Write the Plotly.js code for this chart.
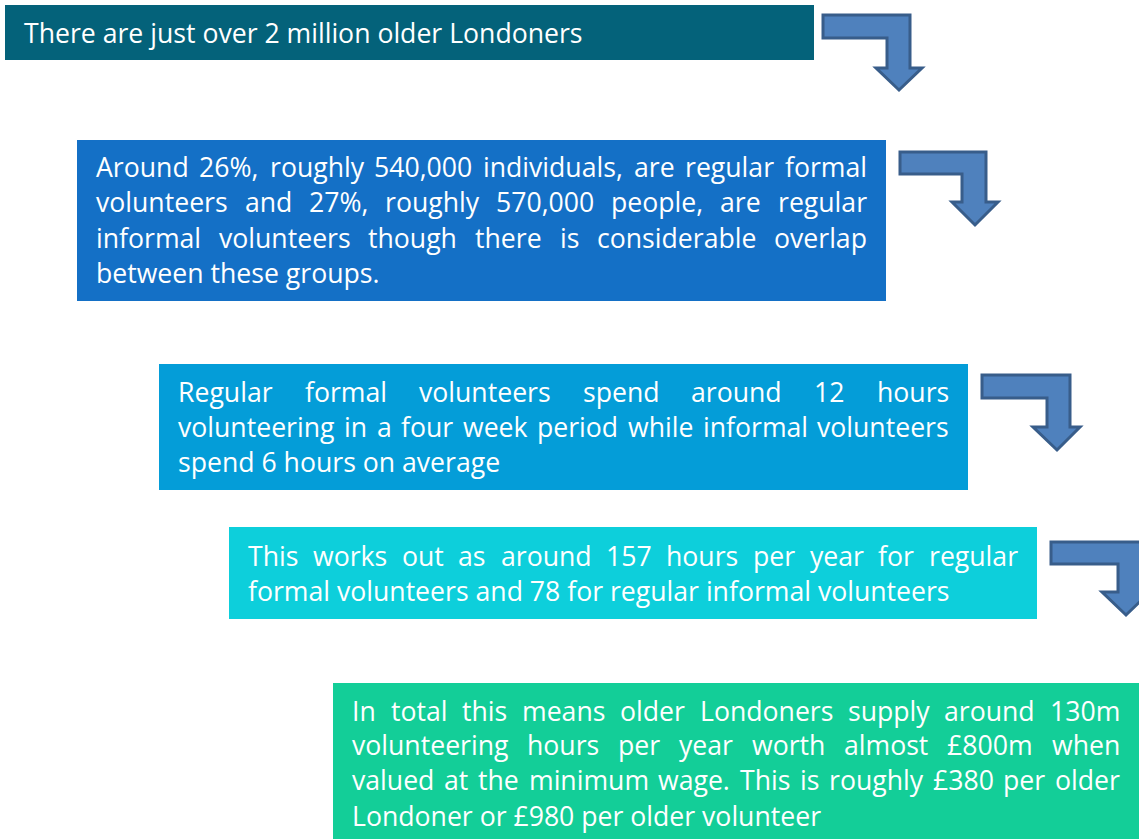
<!DOCTYPE html>
<html>
<head>
<meta charset="utf-8">
<script src="https://cdn.plot.ly/plotly-3.0.1.min.js"></script>
<style>html,body{margin:0;padding:0;background:#fff;}#chart{width:1139px;height:839px;}</style>
</head>
<body>
<div id="chart"></div>
<script>
// ---- content ----
const box1Lines = ["There are just over 2 million older Londoners"];
const box2Lines = [
  "Around 26%, roughly 540,000 individuals,  are regular formal",
  "volunteers and 27%, roughly 570,000 people, are regular",
  "informal volunteers though there is considerable overlap",
  "between these groups."
];
const box3Lines = [
  "Regular formal volunteers spend around 12 hours",
  "volunteering in a four week period while informal volunteers",
  "spend 6 hours on average"
];
const box4Lines = [
  "This works out as around 157 hours per year for regular",
  "formal volunteers and 78 for regular informal volunteers"
];
const box5Lines = [
  "In total this means older Londoners supply around 130m",
  "volunteering hours per year worth almost £800m when",
  "valued at the minimum wage. This is roughly £380 per older",
  "Londoner or £980 per older volunteer"
];
const boxColors = ["#04627A", "#1470C6", "#049DD8", "#0DCFDB", "#13CE98"];

// ---- layout geometry (pixels) ----
const boxGeom = [
  {x0:5,   x1:814,  y0:5,   y1:60,  baseline:[43],               justify:false},
  {x0:77,  x1:886,  y0:140, y1:301, baseline:[177,212,248,283],  justify:true},
  {x0:159, x1:968,  y0:364, y1:490, baseline:[402,437,472],      justify:true},
  {x0:229, x1:1037, y0:527, y1:619, baseline:[566,601],          justify:true},
  {x0:333, x1:1139, y0:683, y1:845, baseline:[721,755,790,826],  justify:true}
];
const arrowGeom = [
  {x0:823,  top:15,  bot:38,  xl:887,  xr:910,  hy:68,  hl:876,  hr:922,  tx:899,  ty:90},
  {x0:900,  top:152, bot:174, xl:962,  xr:986,  hy:202, hl:952,  hr:998,  tx:975,  ty:225},
  {x0:982,  top:375, bot:398, xl:1047, xr:1070, hy:427, hl:1033, hr:1080, tx:1057, ty:450},
  {x0:1051, top:542, bot:564, xl:1118, xr:1141, hy:592, hl:1102, hr:1150, tx:1126, ty:615}
];
const allLines = [box1Lines, box2Lines, box3Lines, box4Lines, box5Lines];

const FONT = "Open Sans";
const cv = document.createElement("canvas").getContext("2d");
function measure(t, s){ cv.font = s + "px '" + FONT + "'"; return cv.measureText(t).width; }
const fs = 30 * 559 / measure(box1Lines[0], 30);

const shapes = [];
const annotations = [];
boxGeom.forEach((g, i) => {
  shapes.push({type:"rect", xref:"x", yref:"y", x0:g.x0, x1:g.x1, y0:g.y0, y1:g.y1,
    fillcolor:boxColors[i], line:{width:0}, layer:"below"});
  const left = g.x0 + 18, right = g.x1 - 20;
  const lines = allLines[i];
  lines.forEach((ln, j) => {
    const y = g.baseline[j] - fs*0.33 - 1;
    const words = ln.split(" ").filter(w => w.length);
    const last = j === lines.length - 1;
    if (!g.justify || last || words.length < 2) {
      annotations.push({x:left, y:y, xref:"x", yref:"y", text:words.join(" "), showarrow:false,
        xanchor:"left", yanchor:"middle", borderpad:0, font:{family:FONT, size:fs, color:"#ffffff"}});
    } else {
      const ws = words.map(w => measure(w, fs));
      const tot = ws.reduce((a,b)=>a+b,0);
      const gap = (right - left - tot) / (words.length - 1);
      let x = left;
      words.forEach((w, k) => {
        annotations.push({x:x, y:y, xref:"x", yref:"y", text:w, showarrow:false,
          xanchor:"left", yanchor:"middle", borderpad:0, font:{family:FONT, size:fs, color:"#ffffff"}});
        x += ws[k] + gap;
      });
    }
  });
});
arrowGeom.forEach(a => {
  const p = `M${a.x0},${a.top} L${a.xr},${a.top} L${a.xr},${a.hy} L${a.hr},${a.hy} L${a.tx},${a.ty} L${a.hl},${a.hy} L${a.xl},${a.hy} L${a.xl},${a.bot} L${a.x0},${a.bot} Z`;
  shapes.push({type:"path", xref:"x", yref:"y", path:p, fillcolor:"#4F81BD", line:{color:"#385D8A", width:3}});
});

const layout = {
  width:1139, height:839, margin:{l:0,r:0,t:0,b:0},
  paper_bgcolor:"#ffffff", plot_bgcolor:"#ffffff",
  xaxis:{range:[0,1139], visible:false, fixedrange:true},
  yaxis:{range:[839,0], visible:false, fixedrange:true},
  shapes:shapes, annotations:annotations, showlegend:false
};
Plotly.newPlot("chart", [], layout, {displayModeBar:false, staticPlot:true});
</script>
</body>
</html>
